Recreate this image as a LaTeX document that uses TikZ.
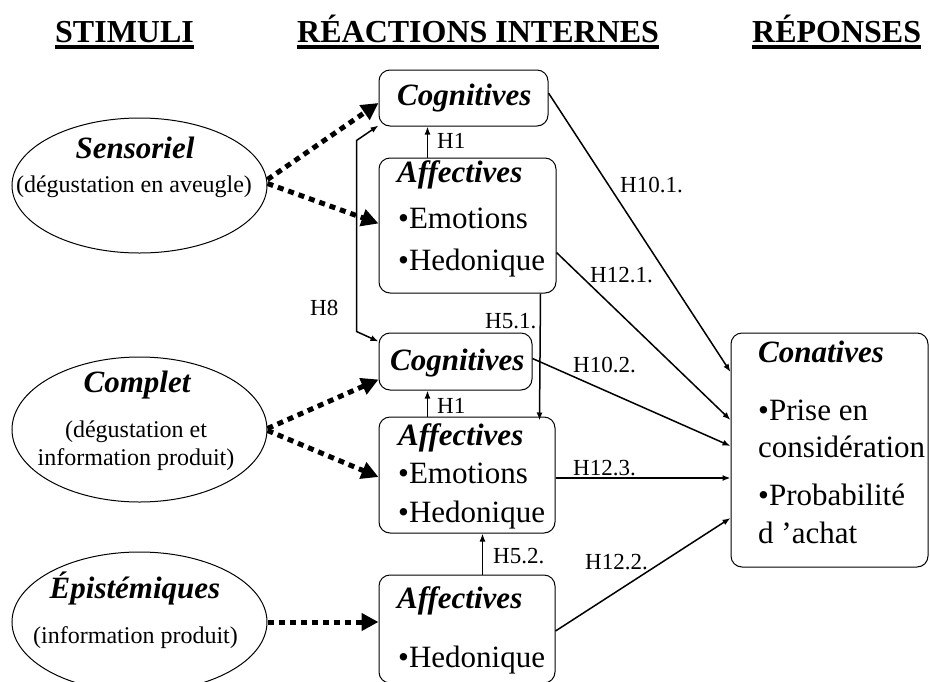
\documentclass[tikz,border=0pt]{standalone}
\usepackage{fontspec}
\setmainfont{Liberation Serif}
\usetikzlibrary{arrows.meta,shapes.geometric,calc}
\newcommand\mytxt{\fontsize{31}{36}\selectfont}
\newcommand\mysub{\fontsize{24}{28}\selectfont}
\newcommand\mylab{\fontsize{23}{27}\selectfont}
\newcommand\mytitle{\fontsize{32}{36}\selectfont\bfseries}
\begin{document}
\begin{tikzpicture}[x=1pt,y=-1pt,
  box/.style={draw,rounded corners=11pt,line width=1pt,inner sep=0pt},
  oval/.style={draw,ellipse,line width=1pt,minimum width=255pt,inner sep=0pt},
  txt/.style={anchor=base west,inner sep=0pt,font=\mytxt},
  head/.style={anchor=base west,inner sep=0pt,font=\mytxt\bfseries\itshape},
  ohead/.style={anchor=base,inner sep=0pt,font=\mytxt\bfseries\itshape},
  osub/.style={anchor=base,inner sep=0pt,font=\mysub},
  lab/.style={anchor=base west,inner sep=0pt,font=\mylab},
  ttl/.style={anchor=base west,inner sep=0pt,font=\mytitle},
  uline/.style={line width=4pt},
  thin/.style={line width=1.5pt,-{Latex[length=8pt,width=6pt]}},
  thinboth/.style={line width=1.5pt,{Latex[length=8pt,width=6pt]}-{Latex[length=8pt,width=6pt]}},
  dots/.style={line width=5pt,dash pattern=on 6pt off 5pt,-{Triangle[length=17pt,width=17pt]}}
]
\useasboundingbox (0,0) rectangle (930,681);
\fill[white] (0,0) rectangle (930,681);

% titles
\node[ttl] (t1) at (55,42) {STIMULI};
\node[ttl] (t2) at (297,42) {RÉACTIONS INTERNES};
\node[ttl] (t3) at (752,42) {RÉPONSES};
\foreach \t in {t1,t2,t3}{
  \draw[uline] ([yshift=-5pt]\t.base west) -- ([yshift=-5pt]\t.base east);
}

% stimuli ellipses
\node[oval,minimum height=135pt] (sens) at (139.5,185.5) {};
\node[ohead] (sensA) at (135,158) {Sensoriel};
\node[osub] (sensB) at (134,192) {(dégustation en aveugle)};

\node[oval,minimum height=145pt] (compl) at (139.5,429.5) {};
\node[ohead] (complA) at (137,392) {Complet};
\node[osub] (complB) at (136,437) {(dégustation et};
\node[osub] (complC) at (136,465) {information produit)};

\node[oval,minimum height=140pt] (epis) at (139.5,622) {};
\node[ohead] (episA) at (135,598) {Épistémiques};
\node[osub] (episB) at (135.5,643) {(information produit)};

% internal reaction boxes
\node[box,minimum width=169pt,minimum height=56pt] (cog1) at (463.5,98) {};
\node[head] (cog1t) at (397,105) {Cognitives};

\node[box,minimum width=177pt,minimum height=135pt] (aff1) at (467.5,225.5) {};
\node[head] (aff1a) at (397,182) {Affectives};
\node[txt] (aff1b) at (398,228) {•Emotions};
\node[txt] (aff1c) at (398,270) {•Hedonique};

\node[box,minimum width=153pt,minimum height=57pt] (cog2) at (455.5,361.5) {};
\node[head] (cog2t) at (390,370) {Cognitives};

\node[box,minimum width=176pt,minimum height=116pt] (aff2) at (467,475) {};
\node[head] (aff2a) at (398,445) {Affectives};
\node[txt] (aff2b) at (398,483) {•Emotions};
\node[txt] (aff2c) at (398,522) {•Hedonique};

\node[box,minimum width=176pt,minimum height=108pt] (aff3) at (467,629) {};
\node[head] (aff3a) at (397,608) {Affectives};
\node[txt] (aff3b) at (398,667) {•Hedonique};

% response box
\node[box,minimum width=197pt,minimum height=234pt] (con) at (829.5,450) {};
\node[head] (cona) at (758,362) {Conatives};
\node[txt] (conb) at (758,420) {•Prise en};
\node[txt] (conc) at (758,457) {considération};
\node[txt] (cond) at (758,505) {•Probabilité};
\node[txt] (cone) at (758,543) {d 'achat};

% dotted stimulus arrows
\draw[dots] ([yshift=6pt]sens.east) -- ([yshift=-5pt]cog1.west);
\draw[dots] ([yshift=2pt]sens.east) -- ([yshift=2pt]aff1.west);
\draw[dots] ([yshift=1pt]compl.east) -- ([yshift=-18pt]cog2.west);
\draw[dots] ([yshift=-1pt]compl.east) -- ([yshift=-2pt]aff2.west);
\draw[dots] (epis.east) -- (epis.east -| aff3.west);

% internal arrows
\draw[thin] ([xshift=49pt]aff1.north west) -- ([xshift=49pt]cog1.south west);
\draw[thin] ([xshift=49pt]aff2.north west) -- ([xshift=49pt]cog2.south west);
\draw[thin] ([xshift=-16pt]aff1.south east) -- ([xshift=-16pt,yshift=-4pt]aff2.north east);
\draw[thin] ([xshift=104pt]aff3.north west) -- ([xshift=104pt]aff2.south west);
\draw[thinboth] ([yshift=1pt]cog1.south west) -- ++(-22,15) -- ++(0,191) -- ([yshift=-9pt]cog2.north west);

% arrows to response
\draw[thin] ([yshift=5pt]cog1.east) -- ([yshift=78pt]con.west);
\draw[thin] ([yshift=-27pt]aff1.east) -- ([yshift=30pt]con.west);
\draw[thin] ([yshift=3pt]cog2.east) -- ([yshift=4pt]con.west);
\draw[thin] ([yshift=-3pt]aff2.east) -- ([yshift=-28pt]con.west);
\draw[thin] ([yshift=-2pt]aff3.east) -- ([yshift=-68pt]con.west);

% labels
\node[lab] (h1a) at (437,148) {H1};
\node[lab] (h1b) at (437,413) {H1};
\node[lab] (h8) at (310,315) {H8};
\node[lab] (h51) at (485,328) {H5.1.};
\node[lab] (h52) at (493,563) {H5.2.};
\node[lab] (h101) at (620,192) {H10.1.};
\node[lab] (h121) at (590,282) {H12.1.};
\node[lab] (h102) at (573,372) {H10.2.};
\node[lab] (h123) at (573,475) {H12.3.};
\node[lab] (h122) at (585,569) {H12.2.};
\end{tikzpicture}
\end{document}
